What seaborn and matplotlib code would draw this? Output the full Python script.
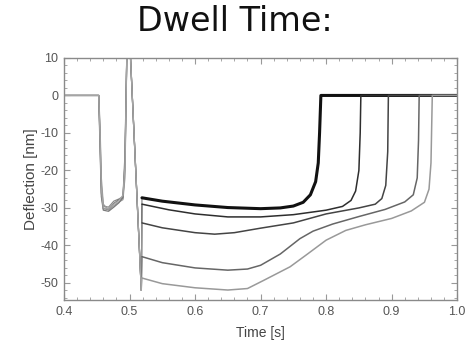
import matplotlib
matplotlib.use("Agg")
import matplotlib.pyplot as plt
from matplotlib.ticker import AutoMinorLocator, MultipleLocator
import seaborn as sns
import pandas as pd

# ---- data (time [s], deflection [nm]) ----
approach_t = [0.400, 0.453, 0.455, 0.457, 0.460, 0.468, 0.476, 0.484, 0.490, 0.493, 0.496, 0.501, 0.518]
approach_1 = [0.0, 0.0, -10.0, -24.0, -29.5, -29.8, -28.2, -27.6, -27.0, -20.0, 12.0, 12.0, -52.0]
approach_2 = [0.0, 0.0, -12.0, -26.0, -30.2, -30.4, -28.8, -27.8, -27.4, -18.0, 12.0, 12.0, -52.0]
approach_3 = [0.0, 0.0, -8.0, -22.0, -29.0, -30.6, -29.4, -28.4, -27.8, -22.0, 12.0, 12.0, -52.0]
approach_4 = [0.0, 0.0, -14.0, -27.0, -30.6, -30.9, -29.8, -28.6, -27.2, -16.0, 12.0, 12.0, -52.0]
approach_5 = [0.0, 0.0, -11.0, -25.0, -30.0, -30.2, -29.0, -28.0, -26.6, -19.0, 12.0, 12.0, -52.0]

dwell1_t = [0.519, 0.55, 0.60, 0.65, 0.70, 0.73, 0.75, 0.765, 0.776, 0.784, 0.788, 0.790, 0.792, 1.0]
dwell1_d = [-27.3, -28.2, -29.2, -29.9, -30.2, -30.0, -29.5, -28.5, -26.5, -23.0, -18.0, -10.0, 0.0, 0.0]

dwell2_t = [0.519, 0.56, 0.60, 0.65, 0.70, 0.75, 0.80, 0.825, 0.838, 0.845, 0.850, 0.852, 0.853, 1.0]
dwell2_d = [-29.0, -30.5, -31.6, -32.4, -32.4, -31.8, -30.6, -29.6, -28.0, -25.5, -20.0, -10.0, 0.0, 0.0]

dwell3_t = [0.519, 0.55, 0.60, 0.63, 0.66, 0.70, 0.75, 0.80, 0.85, 0.875, 0.885, 0.891, 0.894, 0.895, 1.0]
dwell3_d = [-34.0, -35.3, -36.6, -37.0, -36.6, -35.4, -34.0, -31.6, -30.0, -29.0, -27.5, -24.0, -15.0, 0.0, 0.0]

dwell4_t = [0.519, 0.55, 0.60, 0.65, 0.68, 0.70, 0.73, 0.76, 0.78, 0.81, 0.85, 0.89, 0.92, 0.933, 0.939, 0.941, 0.942, 1.0]
dwell4_d = [-43.0, -44.6, -46.0, -46.6, -46.3, -45.3, -42.3, -38.2, -36.2, -34.3, -32.3, -30.4, -28.4, -26.5, -22.0, -12.0, 0.0, 0.0]

dwell5_t = [0.519, 0.55, 0.60, 0.65, 0.68, 0.705, 0.745, 0.77, 0.80, 0.83, 0.86, 0.90, 0.93, 0.95, 0.957, 0.960, 0.962, 1.0]
dwell5_d = [-48.7, -50.2, -51.3, -51.9, -51.5, -49.3, -45.7, -42.5, -38.6, -36.0, -34.5, -32.8, -30.8, -28.5, -25.0, -18.0, 0.0, 0.0]

curves = ["c1", "c2", "c3", "c4", "c5"]
approaches = [approach_1, approach_2, approach_3, approach_4, approach_5]
dwell_ts = [dwell1_t, dwell2_t, dwell3_t, dwell4_t, dwell5_t]
dwell_ds = [dwell1_d, dwell2_d, dwell3_d, dwell4_d, dwell5_d]

colors = ["#111111", "#2e2e2e", "#444444", "#666666", "#999999"]
widths = [2.2, 1.1, 1.1, 1.1, 1.1]
approach_colors = ["#8a8a8a", "#6e6e6e", "#9a9a9a", "#7a7a7a", "#a5a5a5"]

# ---- figure ----
sns.set_style("ticks")
plt.rcParams["font.family"] = ["Liberation Sans", "DejaVu Sans"]
plt.rcParams["axes.unicode_minus"] = False

fig = plt.figure(figsize=(4.67, 3.47), dpi=100)
ax = fig.add_axes([0.137, 0.135, 0.842, 0.698])

# approach / retract segments (gray, thin), ending at each curve's dwell start
for ap, dt, dd, acol in zip(approaches, dwell_ts, dwell_ds, approach_colors):
    df = pd.DataFrame({"t": approach_t + dt[:1], "d": ap + dd[:1]})
    sns.lineplot(data=df, x="t", y="d", sort=False, estimator=None,
                 color=acol, linewidth=0.9, ax=ax)
# dwell curves
for name, dt, dd, col, lw in zip(curves, dwell_ts, dwell_ds, colors, widths):
    df = pd.DataFrame({"t": dt, "d": dd})
    sns.lineplot(data=df, x="t", y="d", sort=False, estimator=None,
                 color=col, linewidth=lw, ax=ax)

ax.set_xlim(0.4, 1.0)
ax.set_ylim(-54.6, 10)
ax.xaxis.set_major_locator(MultipleLocator(0.1))
ax.yaxis.set_major_locator(MultipleLocator(10))
ax.xaxis.set_minor_locator(AutoMinorLocator(5))
ax.yaxis.set_minor_locator(AutoMinorLocator(5))
ax.set_xticklabels([f"{v:.1f}" for v in ax.get_xticks()])
ax.tick_params(which="both", direction="in", top=True, right=True,
               colors="#999999", labelcolor="#555555", labelsize=9)
ax.tick_params(which="major", length=4, width=0.8, pad=4)
ax.tick_params(which="minor", length=2, width=0.6)
for s in ax.spines.values():
    s.set_color("#8a8a8a")
    s.set_linewidth(1.0)

ax.set_xlabel("Time [s]", fontsize=10, color="#444444", labelpad=6)
ax.set_ylabel("Deflection [nm]", fontsize=11, color="#444444", labelpad=2)

fig.text(0.503, 0.985, "Dwell Time:", ha="center", va="top",
         fontsize=24, family="DejaVu Sans", color="#111111")

fig.savefig("out.png", dpi=100)
